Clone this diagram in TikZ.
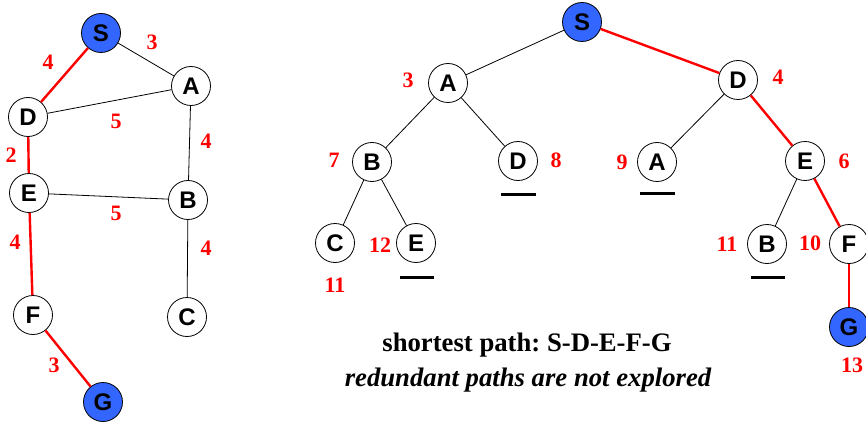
\documentclass[tikz,border=0pt]{standalone}
\usepackage{fontspec}
\setmainfont{Liberation Serif}
\newfontfamily\arialf{Liberation Sans}
\frenchspacing
\definecolor{nodeblue}{RGB}{51,102,255}
\definecolor{pathred}{RGB}{255,0,0}
\begin{document}
\begin{tikzpicture}[x=1pt,y=-1pt,
  vtx/.style={circle,draw=black,line width=0.8pt,fill=white,minimum size=39pt,inner sep=0pt,font=\arialf\bfseries\fontsize{24}{24}\selectfont},
  goal/.style={vtx,fill=nodeblue},
  edge/.style={draw=black,line width=0.8pt},
  redge/.style={draw=pathred,line width=2.4pt},
  cost/.style={text=pathred,font=\bfseries\fontsize{22}{22}\selectfont,inner sep=0pt},
  bar/.style={draw=black,line width=3pt}]
\useasboundingbox (0,0) rectangle (866,422);
% left graph
\node[goal] (S) at (101,33) {S};
\node[vtx] (A) at (191,86) {A};
\node[vtx] (D) at (28,117) {D};
\node[vtx] (E) at (29,193) {E};
\node[vtx] (B) at (188,200) {B};
\node[vtx] (F) at (33,315) {F};
\node[vtx] (C) at (187,317) {C};
\node[goal] (G) at (103,402) {G};
\draw[edge] (S) -- (A);
\draw[edge] (D) -- (A);
\draw[edge] (A) -- (B);
\draw[edge] (E) -- (B);
\draw[edge] (B) -- (C);
\draw[redge] (S) -- (D);
\draw[redge] (D) -- (E);
\draw[redge] (E) -- (F);
\draw[redge] (F) -- (G);
\node[cost] (l1) at (152,42) {3};
\node[cost] (l2) at (48,62) {4};
\node[cost] (l3) at (116,121) {5};
\node[cost] (l4) at (206,141) {4};
\node[cost] (l5) at (11,155) {2};
\node[cost] (l6) at (116,213) {5};
\node[cost] (l7) at (206,248) {4};
\node[cost] (l8) at (15,242) {4};
\node[cost] (l9) at (54,365) {3};
% search tree
\node[goal] (tS) at (582,22) {S};
\node[vtx] (tA) at (448,83) {A};
\node[vtx] (tD) at (738,80) {D};
\node[vtx] (tB) at (372,162) {B};
\node[vtx] (tD2) at (518,161) {D};
\node[vtx] (tA2) at (657,162) {A};
\node[vtx] (tE) at (805,161) {E};
\node[vtx] (tC) at (335,243) {C};
\node[vtx] (tE2) at (416,243) {E};
\node[vtx] (tB2) at (767,244) {B};
\node[vtx] (tF) at (849,244) {F};
\node[goal] (tG) at (849,327) {G};
\draw[edge] (tS) -- (tA);
\draw[edge] (tA) -- (tB);
\draw[edge] (tA) -- (tD2);
\draw[edge] (tB) -- (tC);
\draw[edge] (tB) -- (tE2);
\draw[edge] (tD) -- (tA2);
\draw[edge] (tE) -- (tB2);
\draw[redge] (tS) -- (tD);
\draw[redge] (tD) -- (tE);
\draw[redge] (tE) -- (tF);
\draw[redge] (tF) -- (tG);
\node[cost] (c1) at (408,80) {3};
\node[cost] (c2) at (778,77) {4};
\node[cost] (c3) at (334,160) {7};
\node[cost] (c4) at (556,160) {8};
\node[cost] (c5) at (622,162) {9};
\node[cost] (c6) at (844,161) {6};
\node[cost] (c7) at (380,245) {12};
\node[cost] (c8) at (335,285) {11};
\node[cost] (c9) at (727,244) {11};
\node[cost] (c10) at (810,243) {10};
\node[cost] (c11) at (852,365) {13};
\coordinate (u1a) at (501,194); \coordinate (u1b) at (536,194);
\coordinate (u2a) at (400,277); \coordinate (u2b) at (434,277);
\coordinate (u3a) at (640,193); \coordinate (u3b) at (675,193);
\coordinate (u4a) at (751,277); \coordinate (u4b) at (785,277);
\draw[bar] (u1a) -- (u1b);
\draw[bar] (u2a) -- (u2b);
\draw[bar] (u3a) -- (u3b);
\draw[bar] (u4a) -- (u4b);
\node[font=\bfseries\fontsize{26.7}{26.7}\selectfont,inner sep=0pt] (t1) at (527,345) {shortest path: S-D-E-F-G};
\node[font=\bfseries\itshape\fontsize{26.7}{26.7}\selectfont,inner sep=0pt] (t2) at (528,380) {redundant paths are not explored};
\end{tikzpicture}
\end{document}
